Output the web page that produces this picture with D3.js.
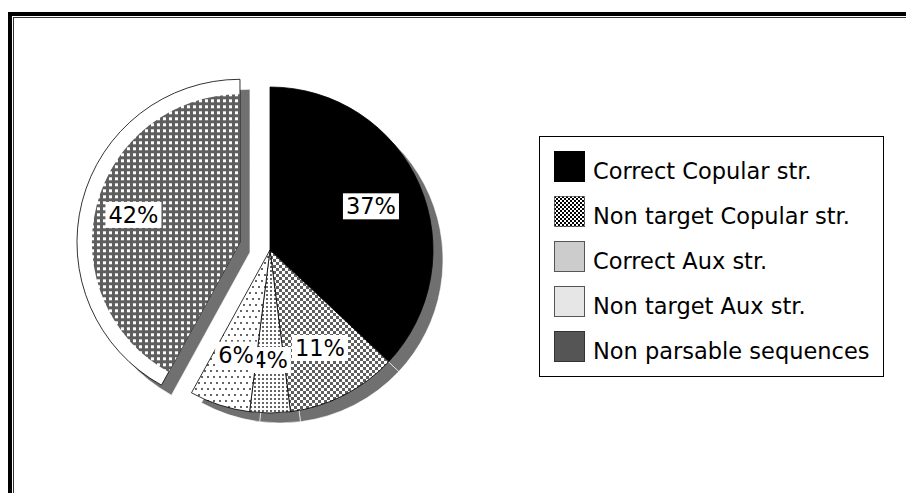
<!DOCTYPE html>
<html>
<head>
<meta charset="utf-8">
<script src="https://cdn.jsdelivr.net/npm/d3@7"></script>
<style>
  body { margin: 0; background: #fff; }
  svg { display: block; font-family: "DejaVu Sans", Verdana, sans-serif; }
</style>
</head>
<body>
<div id="chart"></div>
<script>
// chart data
var categories = ["Correct Copular str.", "Non target Copular str.", "Correct Aux str.", "Non target Aux str.", "Non parsable sequences"];
var values = [37, 11, 4, 6, 42];
var pctLabels = ["37%", "11%", "4%", "6%", "42%"];
var explodedIndex = 4;

// fills for the pie (print patterns) and for the legend swatches
var pieFills = ["#000", "url(#checker)", "url(#dots4)", "url(#dots6)", "url(#grid42)"];
var legendFills = ["#000", "url(#legChecker)", "#cccccc", "#e6e6e6", "#555555"];
var legendStrokes = ["#000", "#000", "#555", "#555", "#333"];

var width = 906, height = 493;
var cx = 270, cy = 250, radius = 163;
var explodeDist = 31, shadowDx = 10, shadowDy = 10;

var svg = d3.select("#chart")
    .append("svg")
    .attr("width", width)
    .attr("height", height);

// patterns
var defs = svg.append("defs");
function addPattern(id, w, h, bg, rects, color) {
    var p = defs.append("pattern")
        .attr("id", id)
        .attr("patternUnits", "userSpaceOnUse")
        .attr("width", w)
        .attr("height", h);
    p.append("rect").attr("width", w).attr("height", h).attr("fill", bg);
    rects.forEach(function(r) {
        p.append("rect")
            .attr("x", r[0]).attr("y", r[1])
            .attr("width", r[2]).attr("height", r[3])
            .attr("fill", color);
    });
}
addPattern("checker", 6, 6, "#fff", [[0, 0, 3, 3], [3, 3, 3, 3]], "#5e5e5e");
addPattern("dots4", 4, 4, "#fff", [[0, 0, 2, 2]], "#666");
addPattern("dots6", 6, 12, "#fff", [[0, 0, 2, 2], [3, 6, 2, 2]], "#666");
addPattern("grid42", 6, 6, "#5e5e5e", [[1, 1, 3, 3]], "#fff");
addPattern("legChecker", 4, 4, "#fff", [[0, 0, 2, 2], [2, 2, 2, 2]], "#000");

// frame (top and left only)
svg.append("rect").attr("x", 8).attr("y", 12).attr("width", width - 8).attr("height", 4).attr("fill", "#000");
svg.append("rect").attr("x", 8).attr("y", 12).attr("width", 4).attr("height", height - 12).attr("fill", "#000");
svg.append("rect").attr("x", 13).attr("y", 17).attr("width", width - 13).attr("height", 1).attr("fill", "#333");
svg.append("rect").attr("x", 13).attr("y", 17).attr("width", 1).attr("height", height - 17).attr("fill", "#333");

var pie = d3.pie().sort(null).value(function(d) { return d; });
var arcs = pie(values);

var arc = d3.arc().innerRadius(0).outerRadius(radius);
var innerArc = d3.arc().innerRadius(0).outerRadius(radius - 15);
var labelArc = d3.arc().innerRadius(110).outerRadius(110);

function offset(d, i) {
    if (i !== explodedIndex) return [0, 0];
    var a = (d.startAngle + d.endAngle) / 2;
    return [Math.sin(a) * explodeDist, -Math.cos(a) * explodeDist];
}

var g = svg.append("g").attr("transform", "translate(" + cx + "," + cy + ")");

// drop shadow
g.selectAll("path.shadow")
    .data(arcs)
    .enter()
    .append("path")
    .attr("class", "shadow")
    .attr("transform", function(d, i) {
        var o = offset(d, i);
        return "translate(" + (o[0] + shadowDx) + "," + (o[1] + shadowDy) + ")";
    })
    .attr("d", arc)
    .attr("fill", "#707070")
    .attr("stroke", "#fff")
    .attr("stroke-width", 0.6);

// slices
g.selectAll("path.slice")
    .data(arcs)
    .enter()
    .append("path")
    .attr("class", "slice")
    .attr("transform", function(d, i) {
        var o = offset(d, i);
        return "translate(" + o[0] + "," + o[1] + ")";
    })
    .attr("d", arc)
    .attr("fill", function(d, i) { return i === explodedIndex ? "#fff" : pieFills[i]; })
    .attr("stroke", "#000")
    .attr("stroke-width", 0.8);

// the exploded slice has its pattern set inside a white rim
var ex = arcs[explodedIndex], exOff = offset(ex, explodedIndex);
g.append("path")
    .attr("transform", "translate(" + exOff[0] + "," + exOff[1] + ")")
    .attr("d", innerArc(ex))
    .attr("fill", pieFills[explodedIndex]);

// labels with white boxes
arcs.forEach(function(d, i) {
    var o = offset(d, i);
    var c = labelArc.centroid(d);
    var lg = g.append("g").attr("transform", "translate(" + (c[0] + o[0]) + "," + (c[1] + o[1]) + ")");
    var rect = lg.append("rect").attr("fill", "#fff");
    var t = lg.append("text")
        .attr("text-anchor", "middle")
        .attr("dy", "0.36em")
        .style("font-size", "22.5px")
        .attr("fill", "#000")
        .text(pctLabels[i]);
    var bb = t.node().getBBox();
    rect.attr("x", bb.x - 3).attr("y", -13).attr("width", bb.width + 6).attr("height", 26);
});

// legend
var legend = svg.append("g").attr("transform", "translate(539,136)");
legend.append("rect")
    .attr("x", 0.5).attr("y", 0.5)
    .attr("width", 344).attr("height", 240)
    .attr("fill", "#fff")
    .attr("stroke", "#000")
    .attr("stroke-width", 1);

var y = d3.scalePoint().domain(categories).range([15, 195]);

var item = legend.selectAll("g.item")
    .data(categories)
    .enter()
    .append("g")
    .attr("class", "item")
    .attr("transform", function(d) { return "translate(15," + y(d) + ")"; });

item.append("rect")
    .attr("x", 0.5).attr("y", 0.5)
    .attr("width", 30).attr("height", 30)
    .attr("fill", function(d, i) { return legendFills[i]; })
    .attr("stroke", function(d, i) { return legendStrokes[i]; })
    .attr("stroke-dasharray", function(d, i) { return i === 1 ? "1,1" : null; })
    .attr("stroke-width", 1);

item.append("text")
    .attr("x", 39)
    .attr("y", 28)
    .style("font-size", "22.5px")
    .attr("fill", "#000")
    .text(function(d) { return d; });
</script>
</body>
</html>
